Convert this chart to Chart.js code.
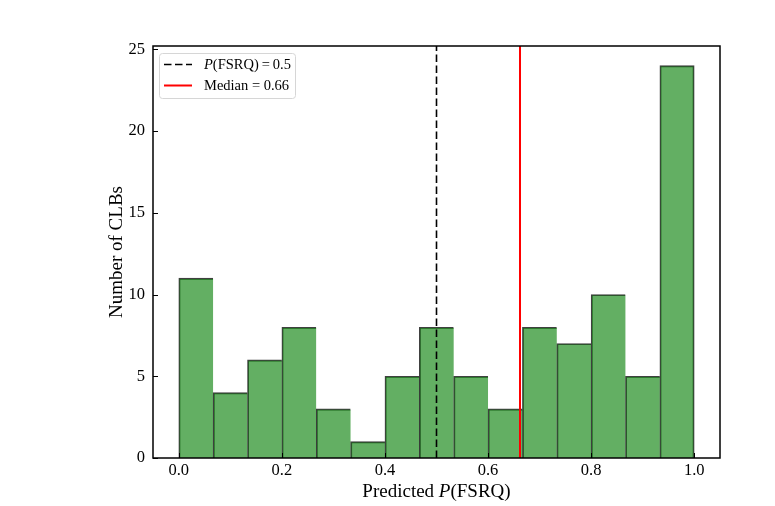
<!DOCTYPE html>
<html>
<head>
<meta charset="utf-8">
<script src="https://cdn.jsdelivr.net/npm/chart.js@4.4.1/dist/chart.umd.min.js"></script>
<style>
  html, body { margin: 0; padding: 0; background: #fff; }
  #wrap { width: 775px; height: 506px; position: relative; }
</style>
</head>
<body>
<div id="wrap"><canvas id="histChart"></canvas></div>
<script>
// Histograma de P(FSRQ) previsto
const binStart = 0.0;
const binEnd = 1.0;
const counts = [11, 4, 6, 8, 3, 1, 5, 8, 5, 3, 8, 7, 10, 5, 24];
const thresholdValue = 0.5;
const medianValue = 0.662;
const legendLabels = [
    { italic: 'P', rest: '(FSRQ)', tail: '\u2009=\u20090.5' },
    { italic: '', rest: 'Median = 0.66', tail: '' }
];
const xTitleParts = ['Predicted ', 'P', '(FSRQ)'];
const yTitle = 'Number of CLBs';

const SERIF = '"Liberation Serif", "Times New Roman", serif';
const DASH = [7.5, 3.5];
const binWidth = (binEnd - binStart) / counts.length;
const histPoints = counts.map((c, i) => ({ x: binStart + (i + 0.5) * binWidth, y: c }));

// desenha linhas verticais, moldura, ticks para dentro, legenda e títulos
const decorPlugin = {
    id: 'decor',
    afterDatasetsDraw(chart) {
        const ctx = chart.ctx;
        const area = chart.chartArea;
        const xs = chart.scales.x;
        const ys = chart.scales.y;

        ctx.save();
        ctx.beginPath();
        ctx.rect(area.left, area.top, area.right - area.left, area.bottom - area.top);
        ctx.clip();

        // linha P = 0.5
        let px = xs.getPixelForValue(thresholdValue);
        ctx.strokeStyle = '#000';
        ctx.lineWidth = 1.6;
        ctx.setLineDash(DASH);
        ctx.beginPath();
        ctx.moveTo(px, area.bottom);
        ctx.lineTo(px, area.top);
        ctx.stroke();
        ctx.setLineDash([]);

        // mediana
        px = xs.getPixelForValue(medianValue);
        ctx.strokeStyle = '#ff0000';
        ctx.lineWidth = 2;
        ctx.beginPath();
        ctx.moveTo(px, area.bottom);
        ctx.lineTo(px, area.top);
        ctx.stroke();
        ctx.restore();

        ctx.save();
        // ticks para dentro
        ctx.strokeStyle = '#000';
        ctx.lineWidth = 1;
        xs.ticks.forEach(t => {
            const x = Math.round(xs.getPixelForValue(t.value)) + 0.5;
            ctx.beginPath();
            ctx.moveTo(x, area.bottom);
            ctx.lineTo(x, area.bottom - 5);
            ctx.stroke();
        });
        ys.ticks.forEach(t => {
            const y = Math.round(ys.getPixelForValue(t.value)) + 0.5;
            ctx.beginPath();
            ctx.moveTo(area.left, y);
            ctx.lineTo(area.left + 5, y);
            ctx.stroke();
        });

        // moldura
        ctx.lineWidth = 1.5;
        ctx.strokeRect(area.left, area.top, area.right - area.left, area.bottom - area.top);

        // legenda
        const lx = area.left + 6, ly = area.top + 7, lw = 136, lh = 45;
        ctx.fillStyle = 'rgba(255,255,255,0.85)';
        ctx.strokeStyle = '#d6d6d6';
        ctx.lineWidth = 1;
        ctx.beginPath();
        ctx.roundRect(lx + 0.5, ly + 0.5, lw, lh, 3);
        ctx.fill();
        ctx.stroke();

        const rows = [ly + 11.5, ly + 32.5];
        const handleX0 = lx + 5, handleX1 = lx + 33, textX = lx + 45;

        ctx.strokeStyle = '#000';
        ctx.lineWidth = 1.6;
        ctx.setLineDash(DASH);
        ctx.beginPath();
        ctx.moveTo(handleX0, rows[0]);
        ctx.lineTo(handleX1, rows[0]);
        ctx.stroke();
        ctx.setLineDash([]);

        ctx.strokeStyle = '#ff0000';
        ctx.lineWidth = 2;
        ctx.beginPath();
        ctx.moveTo(handleX0, rows[1]);
        ctx.lineTo(handleX1, rows[1]);
        ctx.stroke();

        ctx.fillStyle = '#000';
        ctx.textBaseline = 'middle';
        ctx.textAlign = 'left';
        legendLabels.forEach((lab, i) => {
            let x = textX;
            const y = rows[i] + 1;
            if (lab.italic) {
                ctx.font = 'italic 14.5px ' + SERIF;
                ctx.fillText(lab.italic, x, y);
                x += ctx.measureText(lab.italic).width;
            }
            ctx.font = '14.5px ' + SERIF;
            ctx.fillText(lab.rest, x, y);
            x += ctx.measureText(lab.rest).width;
            if (lab.tail) ctx.fillText(lab.tail, x, y);
        });

        // título eixo x
        ctx.textBaseline = 'alphabetic';
        const fontN = '19px ' + SERIF;
        const fontI = 'italic 19px ' + SERIF;
        const fonts = [fontN, fontI, fontN];
        let total = 0;
        const widths = xTitleParts.map((s, i) => { ctx.font = fonts[i]; const w = ctx.measureText(s).width; total += w; return w; });
        let tx = (area.left + area.right) / 2 - total / 2;
        xTitleParts.forEach((s, i) => {
            ctx.font = fonts[i];
            ctx.fillText(s, tx, 497);
            tx += widths[i];
        });

        // título eixo y
        ctx.translate(122, (area.top + area.bottom) / 2);
        ctx.rotate(-Math.PI / 2);
        ctx.textAlign = 'center';
        ctx.font = fontN;
        ctx.fillText(yTitle, 0, 0);
        ctx.restore();
    }
};

new Chart(document.getElementById('histChart'), {
    type: 'bar',
    data: {
        datasets: [{
            data: histPoints,
            backgroundColor: 'rgba(0, 124, 0, 0.61)',
            borderColor: 'rgba(0, 0, 0, 0.75)',
            borderWidth: (c) => ({
                left: 1.2, top: 1.2, bottom: 0,
                right: c.dataIndex === counts.length - 1 ? 1.2 : 0
            }),
            borderSkipped: false,
            barPercentage: 1,
            categoryPercentage: 1
        }]
    },
    options: {
        responsive: true,
        maintainAspectRatio: false,
        animation: false,
        layout: { padding: { left: 93, right: 55, top: 46, bottom: 0 } },
        plugins: {
            legend: { display: false },
            tooltip: { enabled: false }
        },
        scales: {
            x: {
                type: 'linear',
                min: -0.05,
                max: 1.05,
                offset: false,
                grid: { display: false, drawTicks: false },
                border: { display: false },
                ticks: {
                    stepSize: 0.2,
                    includeBounds: false,
                    padding: 3,
                    color: '#000',
                    font: { family: SERIF, size: 16.5 },
                    maxRotation: 0,
                    callback: (v) => Math.abs(v) < 1e-9 ? '0.0' : v.toFixed(1)
                },
                afterFit: (s) => { s.height = 48; }
            },
            y: {
                min: 0,
                max: 25.2,
                grid: { display: false, drawTicks: false },
                border: { display: false },
                ticks: {
                    stepSize: 5,
                    includeBounds: false,
                    padding: 8,
                    color: '#000',
                    font: { family: SERIF, size: 16.5 }
                },
                afterFit: (s) => { s.width = 60; }
            }
        }
    },
    plugins: [decorPlugin]
});
</script>
</body>
</html>
